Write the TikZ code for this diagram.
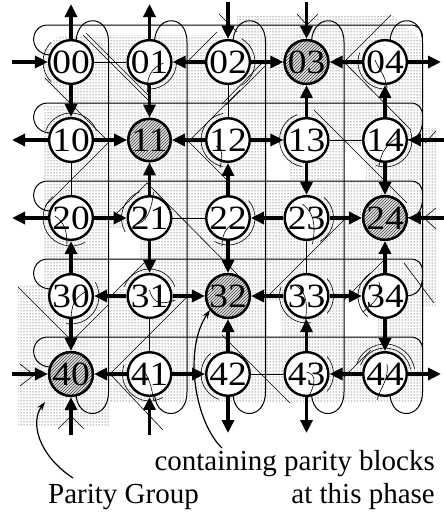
\documentclass[tikz,border=0pt]{standalone}
\usepackage{fontspec}
\usepackage{graphicx}
\setmainfont{Liberation Serif}
\usetikzlibrary{patterns,arrows.meta,calc}
\newcommand\nlab[1]{\scalebox{1.1}[1]{#1}}
\begin{document}
\begin{tikzpicture}[x=1pt,y=-1pt,
  pnode/.style={circle,draw,line width=2.4pt,fill=white,minimum size=38pt,inner sep=0pt,
                font=\fontsize{34}{34}\selectfont},
  hatch/.style={preaction={fill=gray!22},pattern=north east lines,pattern color=black!75},
  thinl/.style={line width=1pt},
  fine/.style={line width=0.6pt},
  arr/.style={line width=3.6pt,-{Triangle[length=13pt,width=12pt]}},
  lnk/.style={line width=1pt},
  ptr/.style={line width=1.2pt,-{Stealth[length=9pt,width=6pt]}},
  lbl/.style={font=\fontsize{29}{29}\selectfont,inner sep=0pt}]
\useasboundingbox (0,0) rectangle (444,512);

% dotted parity-group area
\fill[pattern=dots,pattern color=black!90]
  (43,50) -- (55,38) -- (83,35) -- (237,35) -- (237,15) -- (392,15) -- (423,42)
  -- (423,128) -- (436,128) -- (436,306) -- (423,306) -- (423,402) -- (110,402)
  -- (110,426) -- (18,426) -- (18,286) -- (43,286) -- (43,106) -- (69,106)
  -- (43,80) -- cycle;
% unshaded pockets
\fill[white] (109.5,228) rectangle (140,258.5);
\fill[white] (109.5,259.5) -- (146,259.5) -- (109.5,296) -- cycle;
\fill[white] (266.5,145) rectangle (289,180.5);
\fill[white] (345,145) rectangle (366,180.5);
\fill[white] (266.5,301) rectangle (282,336.5);
\fill[white] (345,301) rectangle (378,336.5);

% diagonal group borders
\draw[fine] (83,35) -- (148,100);  \draw[fine] (86,33) -- (151,98);
\draw[fine] (45,78) -- (108,141);
\draw[fine] (108,143) -- (45,206);
\draw[fine] (18,287) -- (72,341) -- (108,305);
\draw[fine] (110,297) -- (147,260);
\draw[fine] (187,297) -- (110,374) -- (163,430);
\draw[fine] (110,220) -- (147,183) -- (240,277);
\draw[fine] (187,62) -- (217,32);
\draw[fine] (187,143) -- (240,90);
\draw[fine] (187,140) -- (230,183);
\draw[fine] (265,60) -- (222,104); \draw[fine] (265,66) -- (226,105);
\draw[fine] (219,14) -- (237,32);
\draw[fine] (297,14) -- (306,24); \draw[fine] (318,14) -- (308,24);
\draw[fine] (391,15) -- (344,62) -- (411,130);
\draw[fine] (314,110) -- (407,203);
\draw[fine] (344,220) -- (267,297);
\draw[fine] (344,300) -- (385,259);
\draw[fine] (404,263) -- (434,303);
\draw[fine] (222,335) -- (290,403);
\draw[fine] (344,377) -- (371,350);
\draw[fine] (20,364) -- (34,375) -- (20,386);
\draw[fine] (58,429) -- (71,416) -- (84,429);
\draw[fine] (425,143) -- (436,131);
\draw[fine] (436,208) -- (424,218) -- (436,229);

% row tracks with their end loops
\foreach \r in {0,...,4}{
  \pgfmathsetmacro\Y{62+78*\r}
  \draw[thinl] (54,{\Y-7}) .. controls (28,{\Y-5}) and (28,{\Y-37}) .. (48,{\Y-37})
     -- (410,{\Y-37}) .. controls (418,{\Y-37}) and (422.5,{\Y-33}) .. (422.5,{\Y-24});
}
\foreach \r in {1,2,3}{
  \pgfmathsetmacro\Y{62+78*\r}
  \draw[thinl] (402,{\Y}) .. controls (418,{\Y+1}) and (422.5,{\Y-8}) .. (422.5,{\Y-20});
}
% column tracks with their end loops
\foreach \c in {0,...,4}{
  \pgfmathsetmacro\X{71+78.5*\c}
  \draw[thinl] ({\X+5},46) .. controls ({\X+3},14) and ({\X+37.5},12) .. ({\X+37.5},42)
     -- ({\X+37.5},392) .. controls ({\X+37.5},422) and ({\X+3},420) .. ({\X+5},390);
}

% processors
\foreach \r in {0,...,4}{\foreach \c in {0,...,4}{
  \node[pnode] (n\r\c) at ({71+78.5*\c},{62+78*\r}) {\nlab{\r\c}};
}}
\node[pnode,hatch] (n03) at (306.5,62)  {\nlab{03}};
\node[pnode,hatch] (n11) at (149.5,140) {\nlab{11}};
\node[pnode,hatch] (n24) at (385,218)   {\nlab{24}};
\node[pnode,hatch] (n32) at (228,296)   {\nlab{32}};
\node[pnode,hatch] (n40) at (71,374)    {\nlab{40}};

% arcs of the group outlines round the processors
\foreach \n/\a/\b/\rr in {00/135/225/28, 01/0/90/27, 02/-60/60/27, 04/90/200/27,
   10/200/340/27, 12/100/260/27, 13/100/250/27, 14/-20/110/27, 20/60/230/28,
   21/150/250/28, 22/-40/120/27, 23/-50/60/27, 30/-30/100/28, 31/200/340/27,
   33/80/200/27, 33/-40/40/27, 34/130/240/27, 41/60/200/27, 42/110/230/27,
   43/-40/40/27, 44/200/350/26, 44/200/350/30}{
  \draw[fine] (n\n) ++(\a:\rr) arc[start angle=\a,end angle=\b,radius=\rr];
}
% group outlines crossing the processors
\foreach \n/\ax/\ay/\bx/\by/\cx/\cy/\dx/\dy in {
   01/14/1/2/6/-3/14/-2/30, 04/-10/-2/-6/8/0/12/2/26, 12/-12/6/-4/10/-6/18/-8/28,
   14/12/-2/2/4/-4/12/-6/26, 20/-16/-2/-8/4/-4/10/-4/26, 21/-12/6/-4/4/2/-6/4/-26,
   22/8/4/0/8/-6/14/-6/28, 23/-4/-14/6/-6/10/4/6/26, 30/14/-4/4/2/0/8/0/26,
   31/0/-6/4/10/14/8/26/4, 33/-10/-10/0/-4/2/10/-2/28, 34/-6/-14/-2/-2/-10/6/-22/16,
   41/-6/-4/0/6/2/12/4/26, 43/0/-2/10/0/10/10/0/26, 44/2/-10/4/6/-4/12/-8/26}{
  \draw[fine] ($(n\n)+(\ax,\ay)$) .. controls ($(n\n)+(\bx,\by)$) and ($(n\n)+(\cx,\cy)$) .. ($(n\n)+(\dx,\dy)$);
}

% idle links
\draw[lnk] (n00) -- (n01);
\draw[lnk] (n13) -- (n14);
\draw[lnk] (n21) -- (n22);
\draw[lnk] (n42) -- (n43);
\draw[lnk] (n02) -- (n12);
\draw[lnk] (n10) -- (n20);
\draw[lnk] (n23) -- (n33);
\draw[lnk] (n31) -- (n41);

% free ends of the boundary links
\coordinate (e00w) at (12,62);
\coordinate (e00n) at (71,4);
\coordinate (e01n) at (149.5,4);
\coordinate (e02n) at (228,2);
\coordinate (e03n) at (306.5,2);
\coordinate (e04e) at (441,62);
\coordinate (e10w) at (12,140);
\coordinate (e14e) at (444,140);
\coordinate (e20w) at (12,218);
\coordinate (e24e) at (444,218);
\coordinate (e40w) at (12,374);
\coordinate (e40s) at (71,435);
\coordinate (e41s) at (149.5,435);
\coordinate (e42s) at (228,433);
\coordinate (e43s) at (306.5,433);
\coordinate (e44e) at (441,374);

% transfers at this phase
\draw[arr] (e00w) -- (n00);
\draw[arr] (n00) -- (e00n);
\draw[arr] (n01) -- (e01n);
\draw[arr] (e02n) -- (n02);
\draw[arr] (e03n) -- (n03);
\draw[arr] (n04) -- (e04e);
\draw[arr] (n10) -- (e10w);
\draw[arr] (e14e) -- (n14);
\draw[arr] (n20) -- (e20w);
\draw[arr] (e24e) -- (n24);
\draw[arr] (e40w) -- (n40);
\draw[arr] (e40s) -- (n40);
\draw[arr] (e41s) -- (n41);
\draw[arr] (n42) -- (e42s);
\draw[arr] (n43) -- (e43s);
\draw[arr] (n44) -- (e44e);

\draw[arr] (n02) -- (n01);
\draw[arr] (n02) -- (n03);
\draw[arr] (n04) -- (n03);
\draw[arr] (n10) -- (n11);
\draw[arr] (n12) -- (n11);
\draw[arr] (n12) -- (n13);
\draw[arr] (n20) -- (n21);
\draw[arr] (n23) -- (n22);
\draw[arr] (n23) -- (n24);
\draw[arr] (n31) -- (n30);
\draw[arr] (n31) -- (n32);
\draw[arr] (n33) -- (n32);
\draw[arr] (n33) -- (n34);
\draw[arr] (n41) -- (n40);
\draw[arr] (n41) -- (n42);
\draw[arr] (n44) -- (n43);

\draw[arr] (n00) -- (n10);
\draw[arr] (n30) -- (n20);
\draw[arr] (n30) -- (n40);
\draw[arr] (n01) -- (n11);
\draw[arr] (n21) -- (n11);
\draw[arr] (n21) -- (n31);
\draw[arr] (n22) -- (n12);
\draw[arr] (n22) -- (n32);
\draw[arr] (n42) -- (n32);
\draw[arr] (n13) -- (n03);
\draw[arr] (n13) -- (n23);
\draw[arr] (n43) -- (n33);
\draw[arr] (n14) -- (n04);
\draw[arr] (n14) -- (n24);
\draw[arr] (n34) -- (n24);
\draw[arr] (n34) -- (n44);

% captions and their pointers
\node[lbl,anchor=base east] (capA) at (435,470) {containing parity blocks};
\node[lbl,anchor=base west] (capB) at (48,503) {Parity Group};
\node[lbl,anchor=base east] (capC) at (435,503) {at this phase};
\coordinate (pgTail) at (73,478);
\coordinate (pgHead) at (45,402);
\coordinate (pbTail) at (222,448);
\coordinate (pbHead) at (210,310);
\draw[ptr] (pgTail) .. controls (38,455) and (30,422) .. (pgHead);
\draw[ptr] (pbTail) .. controls (195,422) and (183,350) .. (pbHead);
\end{tikzpicture}
\end{document}
